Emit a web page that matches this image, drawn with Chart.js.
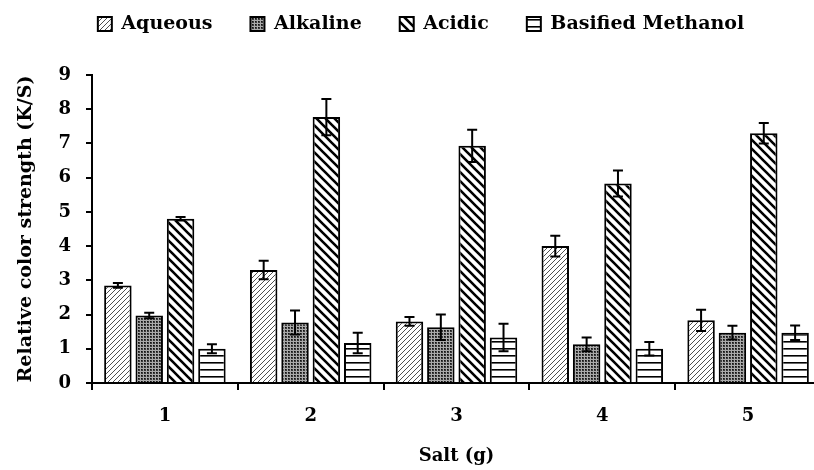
<!DOCTYPE html>
<html>
<head>
<meta charset="utf-8">
<script src="https://cdn.jsdelivr.net/npm/chart.js@4.4.1/dist/chart.umd.min.js"></script>
<style>
  html, body { margin: 0; padding: 0; background: #fff; overflow: hidden; }
  #wrap { width: 842px; height: 470px; }
</style>
</head>
<body>
<div id="wrap"><canvas id="colorChart" width="842" height="470"></canvas></div>
<script>
// Relative colour strength per salt amount, four extraction media
const salts = ['1', '2', '3', '4', '5'];

const aqueous = [2.85, 3.30, 1.80, 4.00, 1.83];
const aqueousErr = [0.07, 0.27, 0.13, 0.30, 0.31];

const alkaline = [1.97, 1.77, 1.63, 1.13, 1.47];
const alkalineErr = [0.08, 0.35, 0.37, 0.20, 0.20];

const acidic = [4.80, 7.77, 6.93, 5.83, 7.30];
const acidicErr = [0.05, 0.53, 0.47, 0.38, 0.30];

const methanol = [1.00, 1.17, 1.33, 1.00, 1.47];
const methanolErr = [0.13, 0.30, 0.40, 0.20, 0.21];

const yTicks = [0, 1, 2, 3, 4, 5, 6, 7, 8, 9];

const FONT = '"DejaVu Serif", "Liberation Serif", serif';

// --- fill patterns -------------------------------------------------------
function makePattern(w, h, draw) {
    const c = document.createElement('canvas');
    c.width = w;
    c.height = h;
    const g = c.getContext('2d');
    g.fillStyle = '#fff';
    g.fillRect(0, 0, w, h);
    draw(g, w, h);
    return document.getElementById('colorChart').getContext('2d').createPattern(c, 'repeat');
}

// thin forward hatch
const aqueousFill = makePattern(5, 5, (g, w, h) => {
    g.strokeStyle = '#222';
    g.lineWidth = 0.8;
    g.beginPath();
    g.moveTo(-1, h + 1); g.lineTo(w + 1, -1);
    g.moveTo(-1 - w, h + 1); g.lineTo(1, -1);
    g.moveTo(w - 1, 2 * h + 1); g.lineTo(2 * w + 1, h - 1);
    g.stroke();
});

// dense dotted screen
const alkalineFill = makePattern(3, 3, (g) => {
    g.fillStyle = '#aaa';
    g.fillRect(0, 0, 3, 3);
    g.fillStyle = '#3a3a3a';
    g.fillRect(0, 0, 2, 2);
    g.fillStyle = '#111';
    g.fillRect(0, 0, 1, 1);
});

// wide backward stripes
const acidicFill = makePattern(9, 9, (g, w, h) => {
    g.strokeStyle = '#000';
    g.lineWidth = 2.6;
    g.beginPath();
    g.moveTo(-2, -2); g.lineTo(w + 2, h + 2);
    g.moveTo(-2 - w, -2); g.lineTo(2, h + 2);
    g.moveTo(w - 2, -2); g.lineTo(2 * w + 2, h + 2);
    g.stroke();
});

// horizontal rules
const methanolFill = makePattern(4, 7, (g, w) => {
    g.fillStyle = '#000';
    g.fillRect(0, 5, w, 1.6);
});

// --- error bars ------------------------------------------------------------
const errorBars = {
    id: 'errorBars',
    afterDatasetsDraw(chart) {
        const ctx = chart.ctx;
        const yScale = chart.scales.y;
        ctx.save();
        ctx.strokeStyle = '#000';
        ctx.lineWidth = 2;
        chart.data.datasets.forEach((ds, i) => {
            const meta = chart.getDatasetMeta(i);
            meta.data.forEach((bar, j) => {
                const v = ds.data[j];
                const e = ds.errors[j];
                const top = yScale.getPixelForValue(v + e);
                const bottom = yScale.getPixelForValue(v - e);
                ctx.beginPath();
                ctx.moveTo(bar.x, top);
                ctx.lineTo(bar.x, bottom);
                ctx.moveTo(bar.x - 5, top);
                ctx.lineTo(bar.x + 5, top);
                ctx.moveTo(bar.x - 5, bottom);
                ctx.lineTo(bar.x + 5, bottom);
                ctx.stroke();
            });
        });
        ctx.restore();
    }
};

// extra room between the legend row and the plot
const legendGap = {
    id: 'legendGap',
    beforeLayout(chart) {
        const legend = chart.legend;
        if (legend && !legend._gapAdded) {
            const fit = legend.fit;
            legend.fit = function () {
                fit.call(this);
                this.height += 31.5;
            };
            legend._gapAdded = true;
        }
    }
};

function series(label, data, errors, fill) {
    return {
        label: label,
        data: data,
        errors: errors,
        backgroundColor: fill,
        borderColor: '#000',
        borderWidth: 2,
        categoryPercentage: 0.86,
        barPercentage: 0.876
    };
}

const chart = new Chart(document.getElementById('colorChart'), {
    type: 'bar',
    data: {
        labels: salts,
        datasets: [
            series('Aqueous', aqueous, aqueousErr, aqueousFill),
            series('Alkaline', alkaline, alkalineErr, alkalineFill),
            series('Acidic', acidic, acidicErr, acidicFill),
            series('Basified Methanol', methanol, methanolErr, methanolFill)
        ]
    },
    options: {
        responsive: false,
        animation: false,
        layout: { padding: { top: -23.5, left: 0, right: 0, bottom: 0 } },
        plugins: {
            legend: {
                position: 'top',
                labels: {
                    color: '#000',
                    boxWidth: 14,
                    boxHeight: 14,
                    padding: 38,
                    font: { family: FONT, size: 19, weight: 'bold' }
                }
            },
            tooltip: { enabled: false }
        },
        scales: {
            x: {
                grid: {
                    display: true,
                    drawOnChartArea: false,
                    color: '#000',
                    lineWidth: 2,
                    tickLength: 7
                },
                border: { color: '#000', width: 2 },
                ticks: {
                    color: '#000',
                    padding: 16,
                    font: { family: FONT, size: 18, weight: 'bold' }
                },
                title: {
                    display: true,
                    text: 'Salt (g)',
                    color: '#000',
                    padding: { top: 4, bottom: 3 },
                    font: { family: FONT, size: 18, weight: 'bold' }
                },
                afterFit(scale) {
                    scale.height = 87;
                    scale.paddingLeft = 0;
                    scale.paddingRight = 21;
                }
            },
            y: {
                min: 0,
                max: 9,
                afterBuildTicks(scale) {
                    scale.ticks = yTicks.map(v => ({ value: v }));
                },
                grid: {
                    display: true,
                    drawOnChartArea: false,
                    color: '#000',
                    lineWidth: 2,
                    tickLength: 6
                },
                border: { color: '#000', width: 2 },
                ticks: {
                    color: '#000',
                    padding: 15,
                    font: { family: FONT, size: 18, weight: 'bold' }
                },
                title: {
                    display: true,
                    text: 'Relative color strength (K/S)',
                    color: '#000',
                    padding: { top: 15, bottom: 4 },
                    font: { family: FONT, size: 19, weight: 'bold' }
                },
                afterFit(scale) {
                    scale.width = 92;
                }
            }
        }
    },
    plugins: [errorBars, legendGap]
});
</script>
</body>
</html>
